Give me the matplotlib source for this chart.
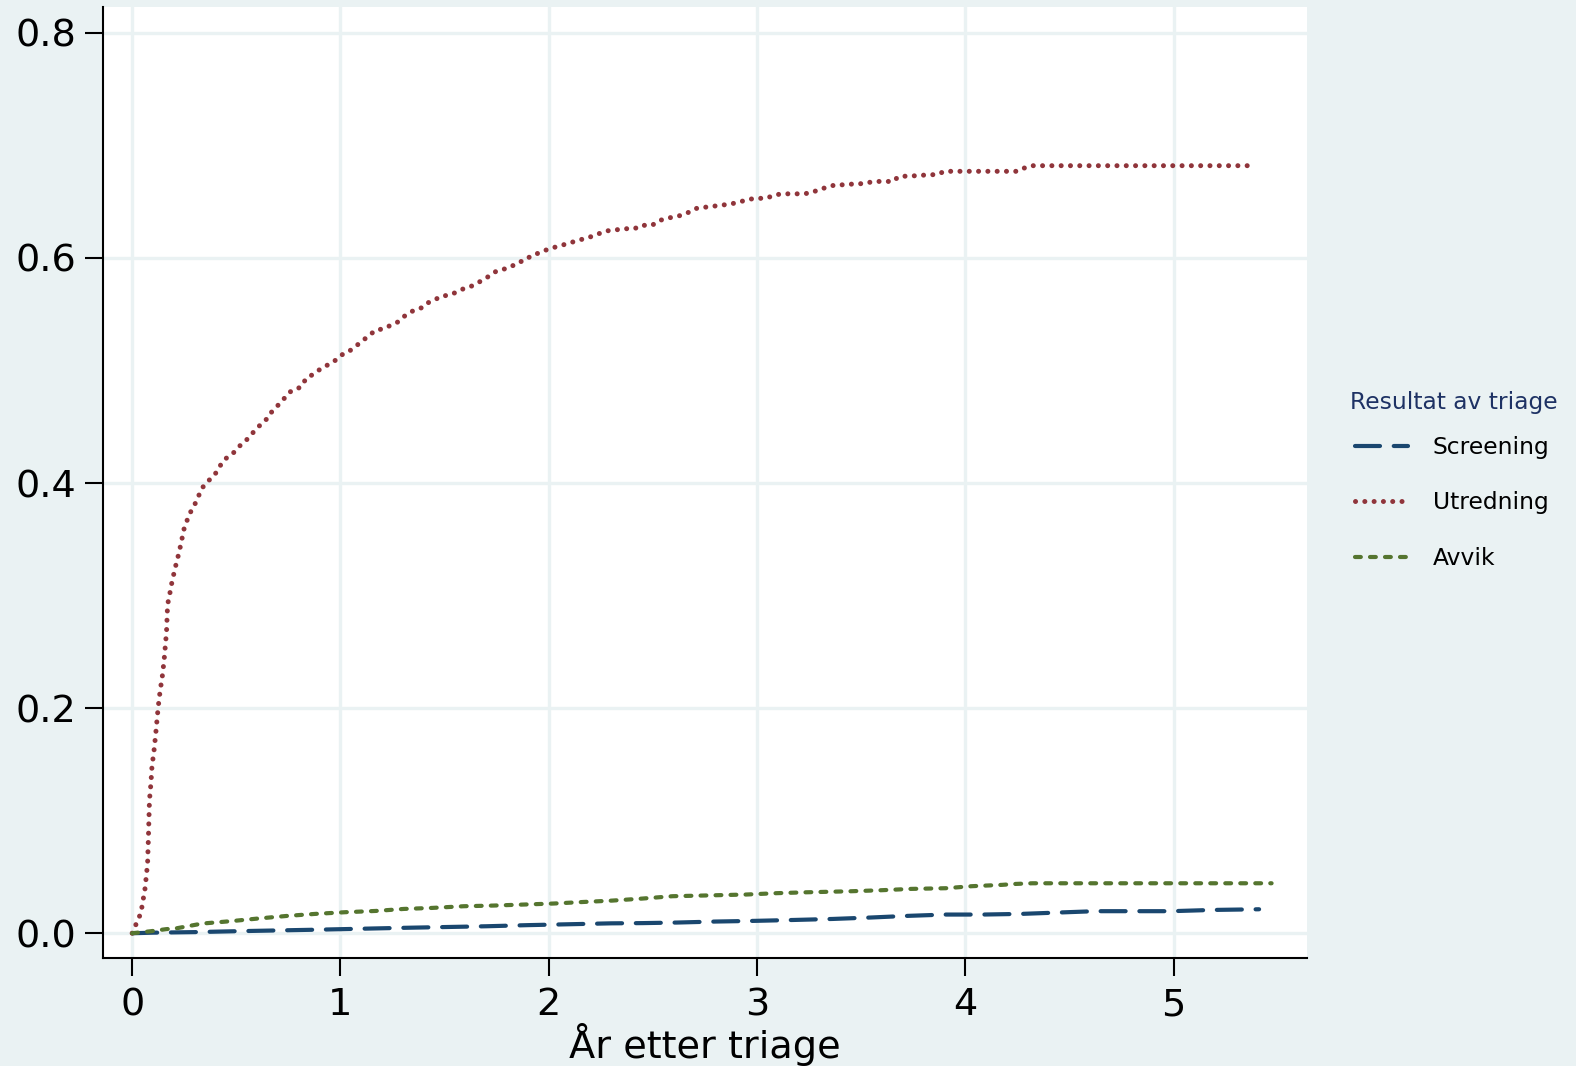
import matplotlib.pyplot as plt

plt.rcParams["font.family"] = ["DejaVu Sans"]

BG = "#EAF2F3"

# Utredning (cumulative share)
utr_x = [0.0, 0.042, 0.062, 0.074, 0.078, 0.083, 0.090, 0.095, 0.106, 0.114, 0.125, 0.134,
         0.146, 0.154, 0.165, 0.170, 0.178, 0.191, 0.207, 0.226, 0.250, 0.274, 0.306, 0.334,
         0.354, 0.378, 0.402, 0.418, 0.438, 0.458, 0.487, 0.509, 0.538, 0.557, 0.581, 0.602,
         0.626, 0.654, 0.669, 0.690, 0.714, 0.734, 0.757, 0.789, 0.818, 0.834, 0.863, 0.917,
         0.951, 0.983, 1.007, 1.034, 1.090, 1.143, 1.170, 1.207, 1.239, 1.274, 1.298, 1.327,
         1.359, 1.394, 1.418, 1.455, 1.482, 1.522, 1.562, 1.594, 1.629, 1.690, 1.722, 1.746,
         1.783, 1.818, 1.850, 1.890, 1.914, 1.946, 1.986, 2.018, 2.058, 2.093, 2.130, 2.167,
         2.204, 2.275, 2.323, 2.364, 2.412, 2.442, 2.496, 2.527, 2.562, 2.639, 2.677, 2.708,
         2.746, 2.791, 2.833, 2.875, 2.920, 2.958, 2.993, 3.045, 3.083, 3.124, 3.172, 3.222,
         3.264, 3.297, 3.343, 3.374, 3.426, 3.471, 3.509, 3.561, 3.655, 3.676, 3.728, 3.776,
         3.816, 3.864, 3.899, 4.249, 4.284, 4.317, 5.39]
utr_y = [0.0, 0.018, 0.040, 0.062, 0.085, 0.118, 0.133, 0.148, 0.164, 0.179, 0.201, 0.215,
         0.230, 0.244, 0.268, 0.292, 0.299, 0.312, 0.325, 0.339, 0.360, 0.372, 0.383, 0.395,
         0.400, 0.404, 0.409, 0.414, 0.420, 0.423, 0.427, 0.432, 0.436, 0.440, 0.445, 0.449,
         0.454, 0.458, 0.463, 0.467, 0.472, 0.476, 0.481, 0.483, 0.487, 0.493, 0.496, 0.503,
         0.506, 0.510, 0.514, 0.516, 0.524, 0.532, 0.536, 0.537, 0.540, 0.543, 0.547, 0.551,
         0.554, 0.556, 0.560, 0.563, 0.566, 0.567, 0.570, 0.573, 0.575, 0.581, 0.585, 0.588,
         0.590, 0.592, 0.596, 0.598, 0.602, 0.604, 0.607, 0.609, 0.611, 0.613, 0.615, 0.617,
         0.619, 0.624, 0.625, 0.626, 0.626, 0.629, 0.629, 0.633, 0.635, 0.638, 0.641, 0.644,
         0.645, 0.646, 0.647, 0.648, 0.650, 0.652, 0.653, 0.653, 0.656, 0.657, 0.657, 0.657,
         0.658, 0.661, 0.663, 0.665, 0.665, 0.666, 0.666, 0.668, 0.668, 0.672, 0.673, 0.673,
         0.674, 0.674, 0.677, 0.677, 0.680, 0.682, 0.682]

# Avvik
avv_x = [0.0, 0.09, 0.162, 0.216, 0.336, 0.472, 0.600, 0.744, 0.880, 1.024, 1.168, 1.304,
         1.440, 1.592, 1.736, 1.880, 2.024, 2.168, 2.304, 2.449, 2.594, 2.740, 2.948, 3.094,
         3.240, 3.448, 3.594, 3.739, 3.906, 4.031, 4.177, 4.239, 4.322, 5.47]
avv_y = [0.0, 0.0018, 0.0036, 0.0045, 0.0086, 0.0107, 0.0130, 0.0154, 0.0172, 0.0187, 0.0198,
         0.0216, 0.0225, 0.0240, 0.0246, 0.0255, 0.0264, 0.0278, 0.0290, 0.0308, 0.0329, 0.0335,
         0.0344, 0.0356, 0.0364, 0.0373, 0.0382, 0.0394, 0.0400, 0.0418, 0.0430, 0.0438, 0.0444,
         0.0444]

# Screening
scr_x = [0.0, 0.1, 0.3, 0.5, 0.7, 0.9, 1.1, 1.3, 1.5, 1.7, 1.9, 2.1, 2.3, 2.45, 2.615, 2.802,
         2.989, 3.176, 3.363, 3.550, 3.718, 3.906, 4.083, 4.270, 4.447, 4.624, 4.988, 5.186, 5.41]
scr_y = [0.0, 0.0005, 0.0010, 0.0018, 0.0025, 0.0032, 0.0040, 0.0048, 0.0055, 0.0062, 0.0072,
         0.0080, 0.0088, 0.0090, 0.0095, 0.0104, 0.0110, 0.0118, 0.0127, 0.0140, 0.0154, 0.0166,
         0.0166, 0.0172, 0.0184, 0.0196, 0.0196, 0.0207, 0.0213]

x_ticks = [0, 1, 2, 3, 4, 5]
y_ticks = [0.0, 0.2, 0.4, 0.6, 0.8]

fig = plt.figure(figsize=(15.76, 10.66), dpi=100, facecolor=BG)
ax = fig.add_axes([103 / 1576, 1 - 958 / 1066, (1307 - 103) / 1576, (958 - 7) / 1066])
ax.set_facecolor("white")

ax.plot(scr_x, scr_y, color="#1a476f", lw=3.0, dashes=(6, 3.3),
        dash_capstyle="round", label="Screening", zorder=3)
ax.plot(utr_x, utr_y, color="#90353b", lw=3.6, dashes=(0.01, 1.85),
        dash_capstyle="round", label="Utredning", zorder=3)
ax.plot(avv_x, avv_y, color="#55752f", lw=3.0, dashes=(1.4, 2.2),
        dash_capstyle="round", label="Avvik", zorder=3)

ax.set_xlim(-0.14, 5.64)
ax.set_ylim(-0.022, 0.823)
ax.set_xticks(x_ticks)
ax.set_yticks(y_ticks)
ax.set_yticklabels([f"{v:.1f}" for v in y_ticks])
ax.grid(True, color=BG, lw=2.4)
ax.set_axisbelow(True)

for side in ["top", "right"]:
    ax.spines[side].set_visible(False)
for side in ["left", "bottom"]:
    ax.spines[side].set_linewidth(1.5)
    ax.spines[side].set_color("black")

ax.tick_params(axis="both", length=13, width=1.5, labelsize=27.5, direction="out")
ax.tick_params(axis="y", pad=6)
ax.tick_params(axis="x", pad=8)
ax.set_xlabel("År etter triage", fontsize=27.5, labelpad=0)

# legend title drawn on its own so the gap under it can differ from the row spacing
fig.text(1350 / 1576, 1 - 402 / 1066, "Resultat av triage", fontsize=16.8,
         color="#1e3264", ha="left", va="center")
leg = ax.legend(loc="center left", bbox_to_anchor=(1343 / 1576, 1 - 503 / 1066),
                bbox_transform=fig.transFigure, frameon=False, borderpad=0,
                fontsize=16.8, handlelength=2.3, handletextpad=1.05,
                labelspacing=1.4)

fig.savefig("out.png", dpi=100, facecolor=BG)
